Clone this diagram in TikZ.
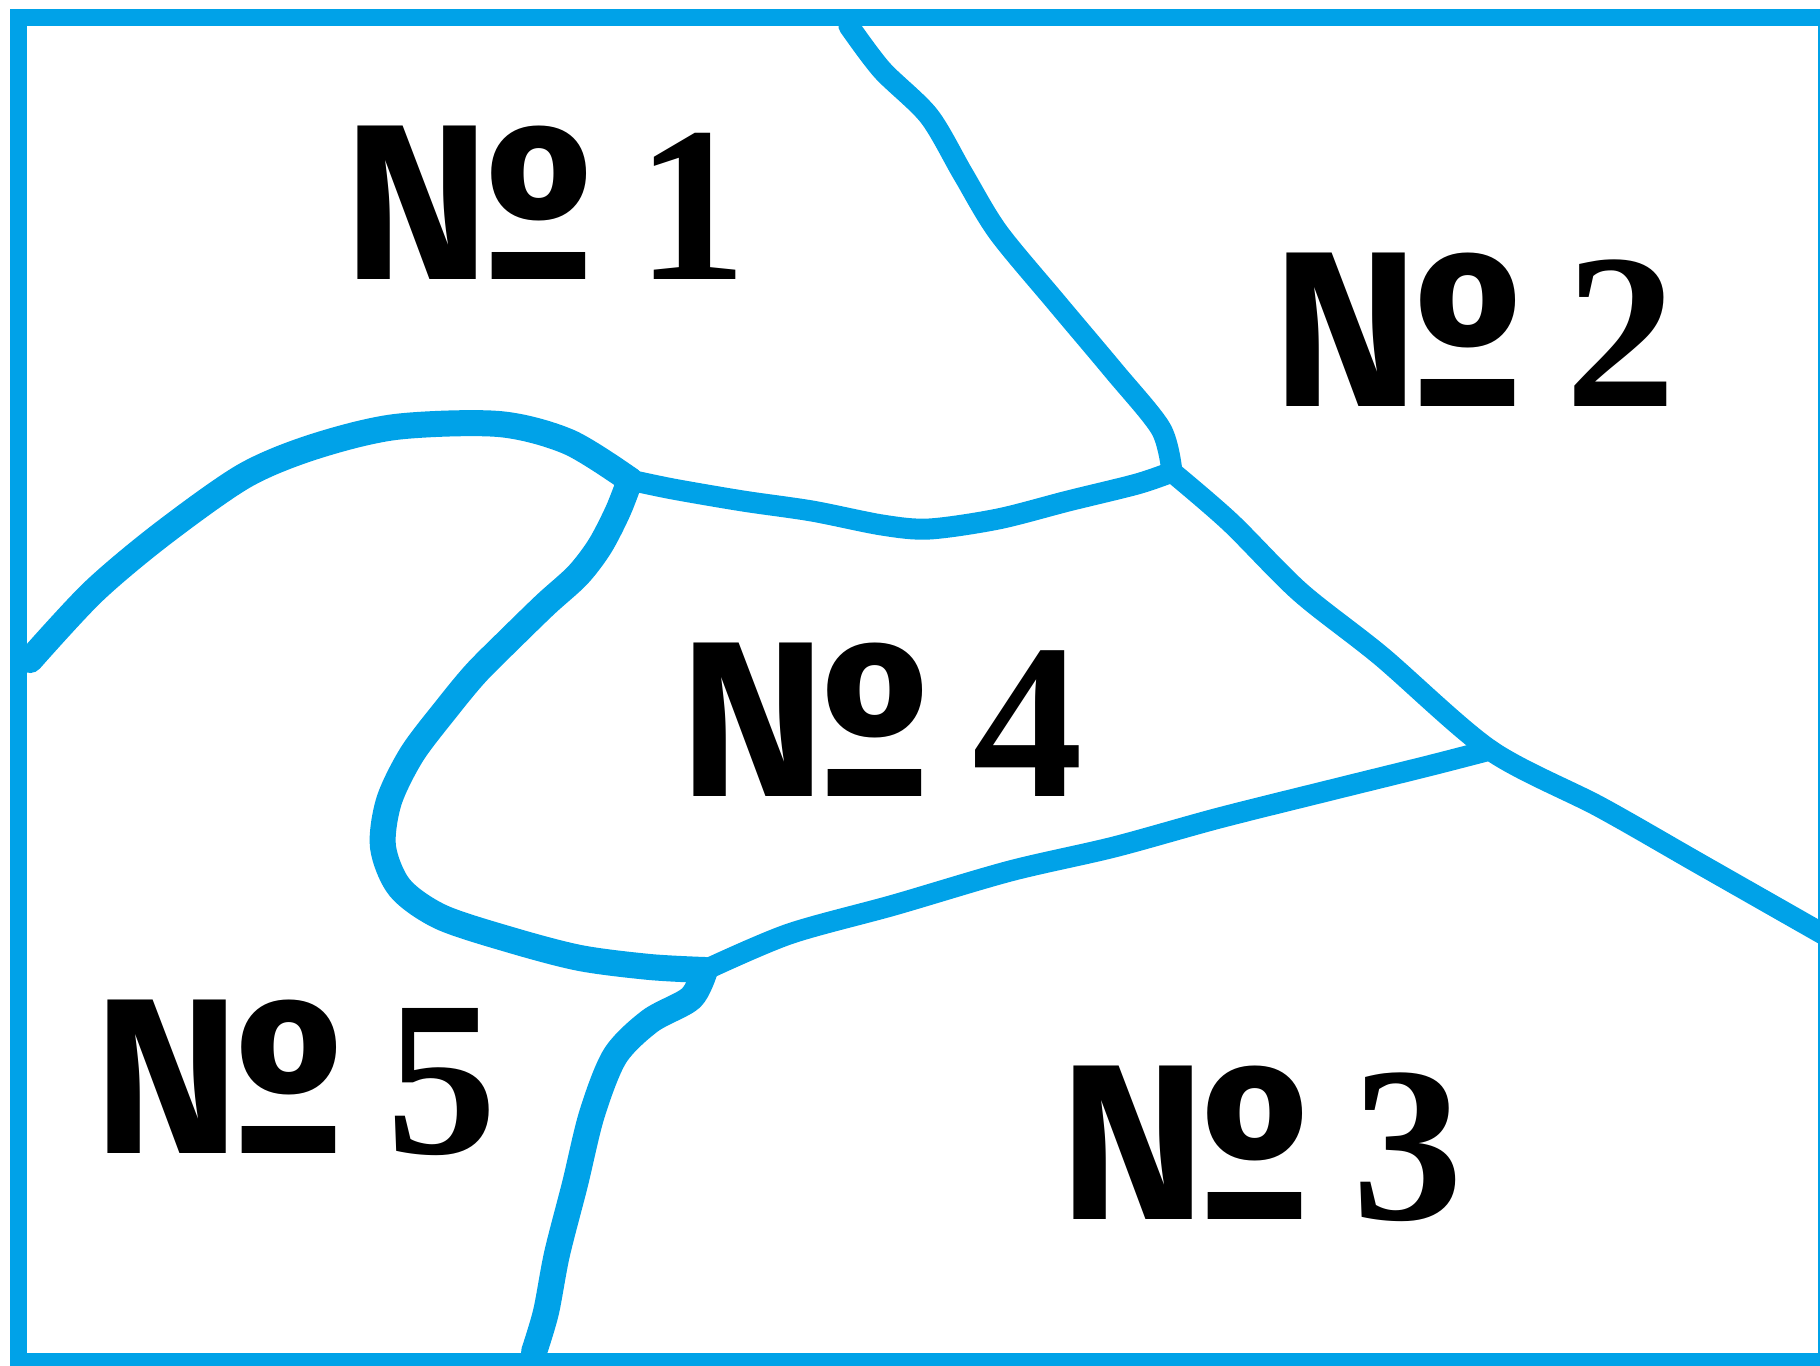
\documentclass[tikz,border=0pt]{standalone}
\usepackage{fontspec}
\setmainfont{Liberation Serif}
\newfontfamily\signfont{Fira Sans}
\usepackage{xcolor}
\definecolor{MapBlue}{HTML}{00A2E8}
\tikzset{
  frame/.style={draw=MapBlue, line width=0.17cm},
  border/.style={draw=MapBlue, line width=0.21cm, line cap=round, line join=round},
  thickborder/.style={border, line width=0.26cm},
  zone/.style={anchor=base west, inner sep=0pt, font=\fontsize{63}{63}\selectfont\bfseries},
}
\newcommand{\zonenum}[1]{{\signfont\bfseries №}\hspace{0.19em}#1}

\begin{document}
\begin{tikzpicture}[x=0.01cm, y=-0.01cm]
    \useasboundingbox (0,0) rectangle (1820,1365);
    \clip (0,0) rectangle (1820,1365);
    \fill[white] (0,0) rectangle (1820,1365);

    % junctions of the borders
    \coordinate (j1) at (630,480);
    \coordinate (j2) at (1172,472);
    \coordinate (j3) at (1490,750);
    \coordinate (j4) at (705,970);

    % borders between the plots
    \draw[thickborder] plot[smooth, tension=0.5] coordinates {(30,660) (93,592) (162,534) (244,476) (313,447) (395,427) (499,424) (569,442) (j1)};
    \draw[border] plot[smooth, tension=0.5] coordinates {(j1) (673,489) (743,501) (812,511) (882,525) (929,529) (998,519) (1068,501) (1137,484) (j2)};
    \draw[border] plot[smooth, tension=0.5] coordinates {(849,26) (882,70) (929,116) (963,174) (998,232) (1056,302) (1114,371) (1161,429) (j2)};
    \draw[border] plot[smooth, tension=0.5] coordinates {(j2) (1230,522) (1300,592) (1381,656) (j3) (1600,807) (1700,864) (1830,938)};
    \draw[thickborder] plot[smooth, tension=0.5] coordinates {(j1) (618,511) (600,546) (578,575) (546,604) (511,638) (476,673) (447,708) (412,754) (389,801) (383,847) (400,888) (441,917) (511,940) (580,958) (650,967) (j4)};
    \draw[border] plot[smooth, tension=0.5] coordinates {(j4) (789,934) (894,905) (1010,871) (1114,847) (1219,818) (1335,789) (1428,766) (j3)};
    \draw[thickborder] plot[smooth, tension=0.5] coordinates {(j4) (691,998) (650,1021) (615,1056) (592,1114) (575,1184) (557,1254) (546,1312) (534,1352)};

    % plot numbers
    \node[zone] (n1) at (343,279) {\zonenum{1}};
    \node[zone] (n2) at (1272,406) {\zonenum{2}};
    \node[zone] (n3) at (1059,1219) {\zonenum{3}};
    \node[zone] (n4) at (679,796) {\zonenum{4}};
    \node[zone] (n5) at (93,1153) {\zonenum{5}};

    \draw[frame] (18.5,17.5) rectangle (1826.5,1361.5);
\end{tikzpicture}
\end{document}
